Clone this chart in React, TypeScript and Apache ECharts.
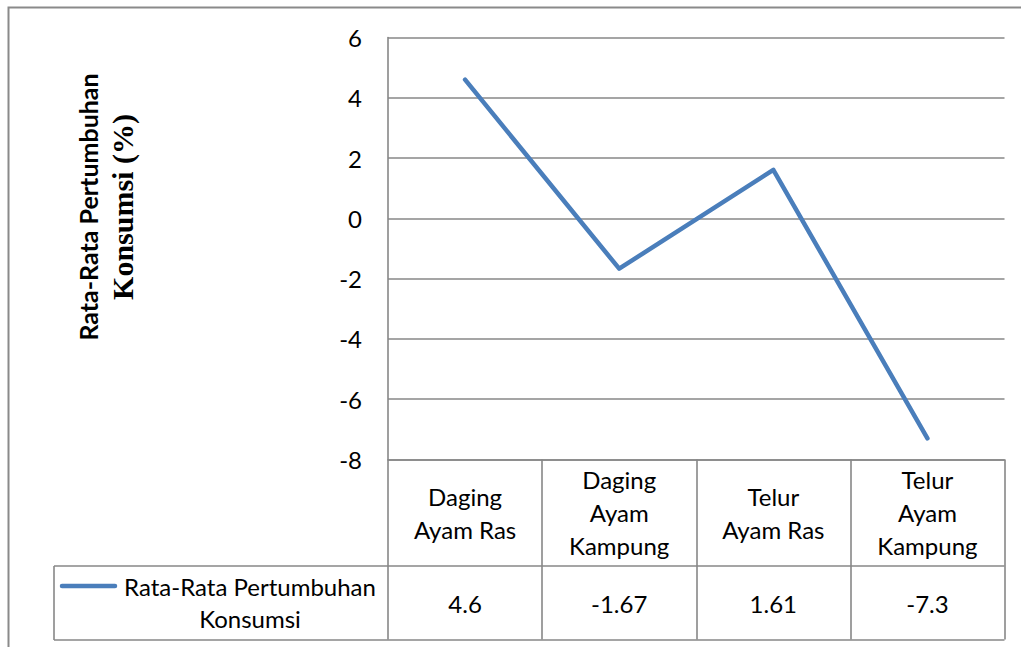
import React, { useEffect, useRef } from "react";
import * as echarts from "echarts";

const categories = ["Daging\nAyam Ras", "Daging\nAyam\nKampung", "Telur\nAyam Ras", "Telur\nAyam\nKampung"];
const values = [4.6, -1.67, 1.61, -7.3];
const valueLabels = ["4.6", "-1.67", "1.61", "-7.3"];
const seriesName = "Rata-Rata Pertumbuhan Konsumsi";
const legendLines = ["Rata-Rata Pertumbuhan", "Konsumsi"];
const yMin = -8;
const yMax = 6;
const yInterval = 2;

const GRID = "#878787";
const LINE = "#4A7EBB";
const FONT = "Lato, 'Open Sans', sans-serif";
const FS = 24;

export default function App() {
  const ref = useRef<HTMLDivElement>(null);
  useEffect(() => {
    document.body.style.margin = "0";
    const chart = echarts.init(ref.current!, null, { renderer: "svg" });
    const option: any = {
      animation: false,
      backgroundColor: "#fff",
      grid: { left: 388, right: 16.5, top: 37.5, bottom: 187.5 },
      xAxis: {
        type: "category",
        data: categories,
        boundaryGap: true,
        axisLine: { show: true, onZero: false, lineStyle: { color: GRID, width: 1.6 } },
        axisTick: { show: true, inside: false, length: 180, lineStyle: { color: GRID, width: 1.6 } },
        axisLabel: {
          margin: 53,
          verticalAlign: "middle",
          fontFamily: FONT,
          fontSize: FS,
          lineHeight: 33,
          color: "#000",
          interval: 0,
        },
        splitLine: { show: false },
      },
      yAxis: {
        type: "value",
        min: yMin,
        max: yMax,
        interval: yInterval,
        axisLine: { show: true, lineStyle: { color: GRID, width: 1.6 } },
        axisTick: { show: false },
        axisLabel: { margin: 26, fontFamily: FONT, fontSize: FS, color: "#000" },
        splitLine: { show: true, lineStyle: { color: GRID, width: 1.6 } },
      },
      series: [
        {
          name: seriesName,
          type: "line",
          data: values,
          showSymbol: false,
          symbol: "none",
          lineStyle: { color: LINE, width: 4.5, cap: "round", join: "round" },
        },
      ],
    };
    chart.setOption(option);

    const c0 = chart.convertToPixel({ xAxisIndex: 0 }, 0) as number;
    const c1 = chart.convertToPixel({ xAxisIndex: 0 }, 1) as number;
    const band = c1 - c0;
    const xRight = c0 + band * (categories.length - 0.5);

    const cellTexts = valueLabels.map((v, i) => {
      const x = chart.convertToPixel({ xAxisIndex: 0 }, i) as number;
      return {
        type: "text",
        x,
        y: 603,
        style: { text: v, fontFamily: FONT, fontSize: FS, fill: "#000", align: "center", verticalAlign: "middle" },
      };
    });

    chart.setOption({
      graphic: [
        {
          type: "rect",
          shape: { x: 8.5, y: 7.5, width: 1200, height: 800 },
          style: { fill: "none", stroke: "#8a8a8a", lineWidth: 2 },
          silent: true,
        },
        { type: "line", shape: { x1: 54, y1: 566, x2: xRight, y2: 566 }, style: { stroke: GRID, lineWidth: 1.6 } },
        { type: "line", shape: { x1: 54, y1: 640, x2: xRight, y2: 640 }, style: { stroke: GRID, lineWidth: 1.6 } },
        { type: "line", shape: { x1: 54, y1: 566, x2: 54, y2: 640 }, style: { stroke: GRID, lineWidth: 1.6 } },
        {
          type: "line",
          shape: { x1: 62, y1: 586, x2: 115, y2: 586 },
          style: { stroke: LINE, lineWidth: 4.5, lineCap: "round" },
        },
        {
          type: "text",
          x: 250,
          y: 602,
          style: {
            text: legendLines.join("\n"),
            fontFamily: FONT,
            fontSize: FS,
            lineHeight: 32,
            fill: "#000",
            align: "center",
            verticalAlign: "middle",
          },
        },
        ...cellTexts,
        {
          type: "text",
          x: 105,
          y: 207,
          rotation: Math.PI / 2,
          style: {
            text: "{a|Rata-Rata Pertumbuhan}\n{b|Konsumsi (%)}",
            align: "center",
            verticalAlign: "middle",
            fill: "#000",
            rich: {
              a: { fontFamily: "Lato, 'Liberation Sans', sans-serif", fontWeight: "bold", fontSize: 25, lineHeight: 34, align: "center" },
              b: { fontFamily: "'Liberation Serif', 'Times New Roman', serif", fontWeight: "bold", fontSize: 30, lineHeight: 34, align: "center" },
            },
          },
        },
      ],
    });
    return () => chart.dispose();
  }, []);
  return <div ref={ref} style={{ width: 1021, height: 647 }} />;
}
